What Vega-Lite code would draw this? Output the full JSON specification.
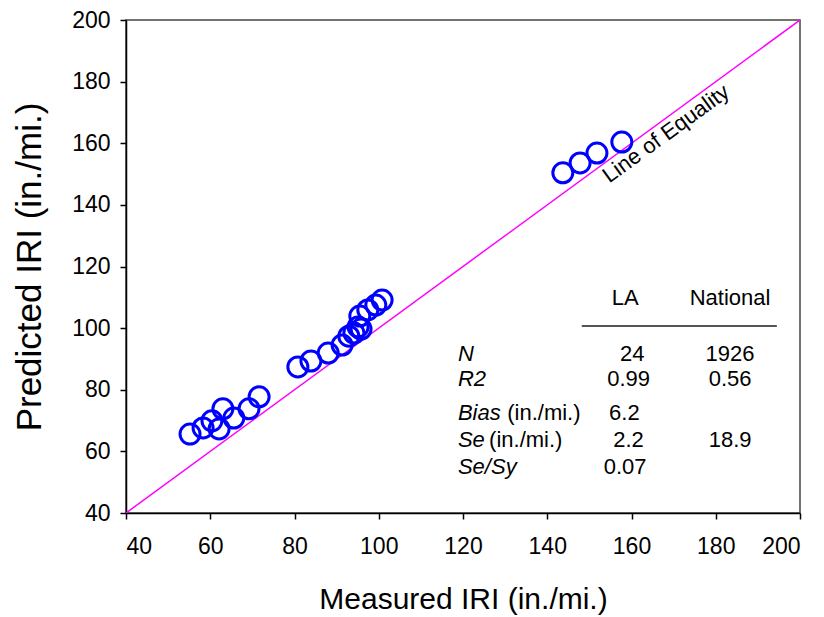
{
  "$schema": "https://vega.github.io/schema/vega-lite/v6.json",
  "width": 674,
  "height": 493,
  "autosize": {"type": "none"},
  "padding": {"left": 126, "top": 20, "right": 24, "bottom": 104},
  "background": "white",
  "config": {
    "font": "Liberation Sans",
    "view": {"stroke": "#444", "strokeWidth": 1.5},
    "axis": {"grid": false, "domainColor": "black", "tickColor": "black", "labelColor": "black", "titleColor": "black", "labelFont": "Liberation Sans", "titleFont": "Liberation Sans", "titleFontWeight": "normal", "domainWidth": 1.5, "tickWidth": 1.5}
  },
  "datasets": {
    "pts": [
      {"m": 55.2, "p": 65.6}, {"m": 58.3, "p": 67.6}, {"m": 60.4, "p": 69.9}, {"m": 62.1, "p": 67.3},
      {"m": 63.0, "p": 73.8}, {"m": 65.6, "p": 70.8}, {"m": 69.2, "p": 73.8}, {"m": 71.6, "p": 77.7},
      {"m": 80.8, "p": 87.4}, {"m": 83.9, "p": 89.3}, {"m": 88.0, "p": 91.9}, {"m": 91.3, "p": 94.5},
      {"m": 92.9, "p": 97.4}, {"m": 94.1, "p": 98.4}, {"m": 95.1, "p": 100.4}, {"m": 95.8, "p": 99.7},
      {"m": 95.5, "p": 103.9}, {"m": 97.4, "p": 105.9}, {"m": 99.3, "p": 107.5}, {"m": 100.8, "p": 109.1},
      {"m": 143.7, "p": 150.4}, {"m": 147.8, "p": 153.6}, {"m": 151.8, "p": 156.8}, {"m": 157.7, "p": 160.4}
    ],
    "eq": [{"m": 40, "p": 40}, {"m": 200, "p": 200}],
    "labelsItalic": [
      {"x": 118.8, "y": 91.6, "t": "N"},
      {"x": 118.8, "y": 83.5, "t": "R2"},
      {"x": 118.8, "y": 72.5, "t": "Bias"},
      {"x": 118.8, "y": 63.7, "t": "Se"},
      {"x": 118.8, "y": 54.9, "t": "Se/Sy"}
    ],
    "labelsPlain": [
      {"x": 130.5, "y": 72.5, "t": "(in./mi.)"},
      {"x": 126.2, "y": 63.7, "t": "(in./mi.)"}
    ],
    "cells": [
      {"x": 158.5, "y": 109.8, "t": "LA"},
      {"x": 183.4, "y": 109.8, "t": "National"},
      {"x": 160.2, "y": 91.6, "t": "24"},
      {"x": 183.4, "y": 91.6, "t": "1926"},
      {"x": 159.3, "y": 83.5, "t": "0.99"},
      {"x": 183.4, "y": 83.5, "t": "0.56"},
      {"x": 158.3, "y": 72.5, "t": "6.2"},
      {"x": 159.3, "y": 63.7, "t": "2.2"},
      {"x": 183.4, "y": 63.7, "t": "18.9"},
      {"x": 158.5, "y": 54.9, "t": "0.07"}
    ],
    "hr": [{"x": 148.2, "x2": 194.5, "y": 100.7}],
    "eqlab": [{"x": 168.2, "y": 163.1, "t": "Line of Equality"}]
  },
  "layer": [
    {
      "data": {"name": "eq"},
      "mark": {"type": "line", "color": "#ff00ff", "strokeWidth": 1.5, "clip": true},
      "encoding": {
        "x": {"field": "m", "type": "quantitative", "scale": {"domain": [40, 200], "nice": false, "zero": false},
          "axis": {"values": [40, 60, 80, 100, 120, 140, 160, 180, 200], "labelFontSize": 23, "tickSize": 6, "labelPadding": 16, "title": "Measured IRI (in./mi.)", "titleFontSize": 30, "titlePadding": 26}},
        "y": {"field": "p", "type": "quantitative", "scale": {"domain": [40, 200], "nice": false, "zero": false},
          "axis": {"values": [40, 60, 80, 100, 120, 140, 160, 180, 200], "labelFontSize": 23, "tickSize": 6, "labelPadding": 10, "title": "Predicted IRI (in./mi.)", "titleFontSize": 35, "titlePadding": 24}}
      }
    },
    {
      "data": {"name": "pts"},
      "mark": {"type": "point", "shape": "circle", "filled": false, "color": "#0000ff", "strokeWidth": 3, "size": 400, "opacity": 1},
      "encoding": {
        "x": {"field": "m", "type": "quantitative"},
        "y": {"field": "p", "type": "quantitative"}
      }
    },
    {
      "data": {"name": "eqlab"},
      "mark": {"type": "text", "angle": 324, "fontSize": 22, "align": "center", "baseline": "middle", "color": "black"},
      "encoding": {
        "x": {"field": "x", "type": "quantitative"},
        "y": {"field": "y", "type": "quantitative"},
        "text": {"field": "t"}
      }
    },
    {
      "data": {"name": "hr"},
      "mark": {"type": "rule", "color": "#555", "strokeWidth": 2},
      "encoding": {
        "x": {"field": "x", "type": "quantitative"},
        "x2": {"field": "x2"},
        "y": {"field": "y", "type": "quantitative"}
      }
    },
    {
      "data": {"name": "labelsItalic"},
      "mark": {"type": "text", "fontSize": 22, "fontStyle": "italic", "align": "left", "baseline": "middle", "color": "black"},
      "encoding": {
        "x": {"field": "x", "type": "quantitative"},
        "y": {"field": "y", "type": "quantitative"},
        "text": {"field": "t"}
      }
    },
    {
      "data": {"name": "labelsPlain"},
      "mark": {"type": "text", "fontSize": 22, "align": "left", "baseline": "middle", "color": "black"},
      "encoding": {
        "x": {"field": "x", "type": "quantitative"},
        "y": {"field": "y", "type": "quantitative"},
        "text": {"field": "t"}
      }
    },
    {
      "data": {"name": "cells"},
      "mark": {"type": "text", "fontSize": 22, "align": "center", "baseline": "middle", "color": "black"},
      "encoding": {
        "x": {"field": "x", "type": "quantitative"},
        "y": {"field": "y", "type": "quantitative"},
        "text": {"field": "t"}
      }
    }
  ]
}
